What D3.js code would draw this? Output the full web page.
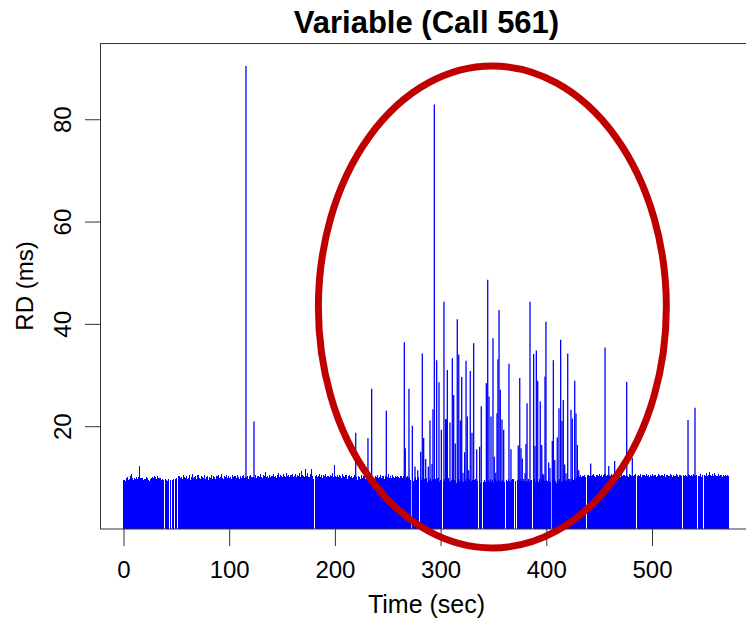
<!DOCTYPE html>
<html>
<head>
<meta charset="utf-8">
<title>Variable (Call 561)</title>
<script src="https://cdn.jsdelivr.net/npm/d3@7"></script>
<style>
body{margin:0;background:#fff;}
text{font-family:"Liberation Sans",Arial,sans-serif;fill:#000;}
</style>
</head>
<body>
<script>
// RD (ms) per second, t = index (0..572); null = no beat recorded
var baseRD = [
 9.6,9.3,9.9,10.1,9.5,9.8,10.3,10.8,9.9,9.6,10.0,9.7,10.2,9.8,10.1,12.3,9.9,10.0,9.6,9.8,
 9.7,10.1,9.9,9.5,9.4,9.8,10.0,10.2,9.9,10.4,10.1,9.8,10.3,9.9,10.0,9.6,9.7,9.5,null,9.8,
 9.6,9.4,9.7,null,9.5,null,9.6,9.8,null,9.7,9.9,null,10.4,9.9,10.2,9.8,10.6,10.1,9.9,10.3,
 9.7,10.0,10.5,9.6,10.2,10.7,9.9,10.1,10.3,9.8,10.6,10.0,9.7,10.4,10.2,9.9,10.5,9.8,10.1,10.3,
 9.6,10.2,10.0,10.6,9.8,10.4,10.1,9.7,10.3,10.5,9.9,10.2,10.7,10.0,9.8,10.4,10.1,10.6,9.9,10.3,
 10.0,10.2,9.7,10.5,10.1,10.3,9.9,10.6,10.2,9.8,10.4,10.0,10.3,10.5,9.9,10.1,10.2,10.4,9.8,10.3,
 10.5,10.1,10.2,10.0,10.6,9.9,10.3,10.4,10.1,10.7,10.2,10.0,10.5,10.3,11.2,10.1,10.4,10.0,10.6,10.2,
 10.3,10.8,10.1,10.4,10.0,10.6,10.9,10.2,10.5,10.3,10.1,10.7,10.4,10.2,11.0,10.3,10.6,10.1,10.5,10.8,
 10.2,10.4,10.7,10.1,10.6,10.3,10.9,10.2,11.3,10.5,10.4,10.1,11.8,10.3,11.0,10.2,10.7,11.8,10.4,9.7,
 null,10.3,10.6,10.1,10.4,10.7,10.2,10.5,10.0,10.6,10.3,10.8,10.1,10.4,10.2,10.6,10.3,10.9,10.2,12.6,
 10.4,10.1,10.5,10.2,10.6,10.3,10.0,10.7,10.4,10.1,10.5,9.8,10.3,10.6,10.2,10.4,9.9,10.1,10.5,10.3,
 10.1,9.6,10.4,10.2,9.8,10.5,10.0,10.3,9.7,10.2,10.4,9.9,10.1,10.6,10.0,10.3,10.2,9.8,10.4,10.1,
 10.5,9.9,10.2,10.6,10.0,10.3,9.8,10.4,10.1,10.2,10.7,10.0,10.3,9.9,10.5,10.2,10.0,10.4,10.1,10.3,
 10.2,9.9,10.4,10.0,10.3,10.6,9.8,10.2,10.4,9.9,10.1,9.6,null,10.0,9.4,9.7,10.2,9.5,9.8,10.1,
 null,9.6,10.0,9.3,9.8,9.5,9.9,9.2,9.7,9.5,9.9,9.4,9.6,9.8,9.3,9.7,9.5,9.9,9.2,9.6,
 9.7,null,9.4,9.8,9.5,9.2,9.6,9.9,9.3,9.1,9.5,9.8,9.2,9.6,9.4,9.0,9.7,9.3,9.5,9.8,
 9.4,9.1,9.6,9.3,9.8,9.0,9.5,9.7,9.2,9.4,9.6,9.1,9.5,9.8,9.3,null,9.4,9.0,9.6,null,
 9.2,9.5,9.2,9.7,9.4,9.6,9.1,9.8,9.3,9.5,9.0,9.7,9.4,9.2,9.6,9.3,9.8,9.1,9.5,9.4,
 9.2,null,9.6,9.3,9.7,9.4,9.1,9.5,9.8,null,9.3,null,9.6,9.2,9.5,9.8,9.4,9.1,9.7,9.3,
 9.6,9.0,9.4,9.8,9.2,9.5,null,9.3,9.7,9.1,9.4,9.6,9.2,9.8,9.3,9.5,9.0,9.7,9.4,9.2,
 9.6,9.3,9.8,9.1,null,9.5,9.2,9.7,9.4,9.0,9.6,9.3,9.8,9.5,9.1,9.4,9.7,9.2,9.6,9.3,
 9.5,9.8,9.4,9.7,9.9,9.6,10.0,9.8,10.2,10.4,10.3,10.1,10.5,10.2,10.4,10.3,10.6,10.1,null,10.5,
 10.4,10.6,10.3,10.5,10.7,10.4,10.2,10.6,10.5,10.3,10.8,10.4,10.6,10.2,10.5,10.7,10.3,10.6,10.4,10.5,
 10.3,10.7,10.5,10.2,10.6,10.4,10.8,10.3,10.5,10.6,10.2,10.7,10.4,10.5,10.3,10.6,10.4,10.2,10.7,10.5,
 10.3,10.6,10.4,10.5,10.8,null,10.3,10.6,10.4,10.7,10.2,10.5,10.6,10.3,10.8,10.4,10.5,10.2,10.6,10.4,
 10.7,10.3,10.5,10.6,10.2,10.4,10.8,10.5,10.3,10.6,10.4,10.7,10.2,10.5,10.6,10.3,10.4,10.8,10.5,10.2,
 10.6,10.4,10.3,10.7,10.5,10.2,10.6,10.4,null,10.5,10.3,10.6,10.4,10.2,10.7,10.5,10.3,10.6,10.4,10.8,
 10.5,10.3,10.6,null,10.4,10.7,10.2,10.5,null,10.6,10.4,10.9,10.3,10.6,11.2,10.5,10.4,10.8,10.3,11.0,
 10.6,10.4,10.7,10.3,10.5,10.6,10.2,10.5,10.4,10.6,10.3,10.5,10.4
];

// taller beats (time in sec, RD in ms)
var spikeT = [115.4,123.0,219.2,230.8,234.3,248.2,265.2,266.1,269.6,272.8,
 275.3,277.9,280.7,282.2,283.5,285.4,287.9,289.5,291.4,292.3,
 293.6,295.8,298.0,300.2,302.7,304.3,305.2,305.9,308.4,310.6,
 311.9,313.4,315.3,316.7,318.2,319.5,320.7,322.3,323.6,324.8,
 326.1,327.6,329.2,330.8,333.7,336.5,338.0,342.8,344.1,345.3,
 347.2,349.1,350.3,351.7,352.9,353.8,354.8,356.0,357.6,359.2,
 364.2,366.1,373.0,374.4,375.6,376.8,379.4,380.3,381.3,384.1,
 387.6,388.8,390.1,391.4,393.8,395.2,396.1,397.1,398.3,399.2,
 401.8,403.0,405.2,406.2,407.5,409.9,411.5,413.1,414.4,415.6,
 416.9,418.2,419.8,422.9,424.1,426.4,427.6,428.9,430.2,441.5,
 455.1,458.6,464.2,475.6,480.9,533.6,540.2];
var spikeRD = [90.5,21.0,18.8,17.8,27.4,23.1,36.5,15.8,27.4,20.2,
 12.2,11.5,15.1,34.3,17.8,13.7,12.2,21.2,12.7,23.4,
 83.0,33.0,28.7,19.4,44.4,21.5,21.4,31.1,20.8,33.4,
 26.2,16.7,41.0,34.1,21.2,29.7,11.0,15.0,32.9,22.0,
 11.5,30.9,18.8,36.3,15.6,16.1,24.0,28.5,48.7,25.9,
 22.0,37.3,14.1,11.0,22.6,33.2,42.8,27.2,21.4,19.4,
 32.3,15.6,16.3,29.5,15.8,13.8,10.9,16.6,24.6,44.4,
 34.2,16.2,34.9,29.0,24.9,16.4,10.8,10.6,29.8,40.5,
 13.0,11.9,17.2,33.0,13.5,17.9,23.6,37.0,21.1,25.2,
 12.6,10.9,34.3,23.3,21.6,29.0,22.6,16.4,11.5,12.8,
 35.5,12.3,13.3,28.8,13.9,21.3,23.7];

var xTicks = [0,100,200,300,400,500];
var yTicks = [20,40,60,80];

var w = 746, h = 619;
var svg = d3.select("body").append("svg").attr("width", w).attr("height", h);

var x = d3.scaleLinear().domain([0, 500]).range([124, 652.5]);
var y = d3.scaleLinear().domain([0, 95]).range([529, 43]);
var step = x(1) - x(0);

// base bars, one per second, abutting so the mass is solid
var base = baseRD.map(function(v, i){ return {t: i, v: v}; }).filter(function(d){ return d.v != null; });
svg.append("g").attr("shape-rendering", "crispEdges")
	.selectAll("rect").data(base).enter().append("rect")
	.attr("x", function(d){ return x(d.t) - step / 2; })
	.attr("width", step + 0.05)
	.attr("y", function(d){ return y(d.v); })
	.attr("height", function(d){ return y(0) - y(d.v); })
	.attr("fill", "#0000ff");

// spikes
svg.append("g").selectAll("line").data(spikeT).enter().append("line")
	.attr("x1", function(d){ return x(d); })
	.attr("x2", function(d){ return x(d); })
	.attr("y1", y(0))
	.attr("y2", function(d, i){ return y(spikeRD[i]); })
	.attr("stroke", "#0000ff")
	.attr("stroke-width", 1.3);

// box
svg.append("rect").attr("x", 100.5).attr("y", 43.5).attr("width", 660).attr("height", 485.5)
	.attr("fill", "none").attr("stroke", "#333").attr("stroke-width", 1);

// x axis
var xa = svg.append("g");
xa.selectAll("line").data(xTicks).enter().append("line")
	.attr("x1", function(d){ return x(d); }).attr("x2", function(d){ return x(d); })
	.attr("y1", 529).attr("y2", 546).attr("stroke", "#333");
xa.selectAll("text").data(xTicks).enter().append("text")
	.attr("x", function(d){ return x(d); }).attr("y", 578)
	.attr("text-anchor", "middle").style("font-size", "24px")
	.text(function(d){ return d; });

// y axis
var ya = svg.append("g");
ya.selectAll("line").data(yTicks).enter().append("line")
	.attr("x1", 85).attr("x2", 100)
	.attr("y1", function(d){ return y(d); }).attr("y2", function(d){ return y(d); })
	.attr("stroke", "#333");
ya.selectAll("text").data(yTicks).enter().append("text")
	.attr("transform", function(d){ return "translate(71," + y(d) + ") rotate(-90)"; })
	.attr("text-anchor", "middle").style("font-size", "24px")
	.text(function(d){ return d; });

// titles
svg.append("text").attr("x", 426.5).attr("y", 33).attr("text-anchor", "middle")
	.style("font-size", "31px").style("font-weight", "bold").text("Variable (Call 561)");
svg.append("text").attr("x", 426.5).attr("y", 613).attr("text-anchor", "middle")
	.style("font-size", "25px").text("Time (sec)");
svg.append("text").attr("transform", "translate(33,286) rotate(-90)").attr("text-anchor", "middle")
	.style("font-size", "24px").text("RD (ms)");

// highlighted region
svg.append("ellipse")
	.attr("cx", x(348.5)).attr("cy", y(43.4))
	.attr("rx", x(348.5 + 164.6) - x(348.5)).attr("ry", y(0) - y(47.1))
	.attr("fill", "none").attr("stroke", "#c00000").attr("stroke-width", 7);
</script>
</body>
</html>
